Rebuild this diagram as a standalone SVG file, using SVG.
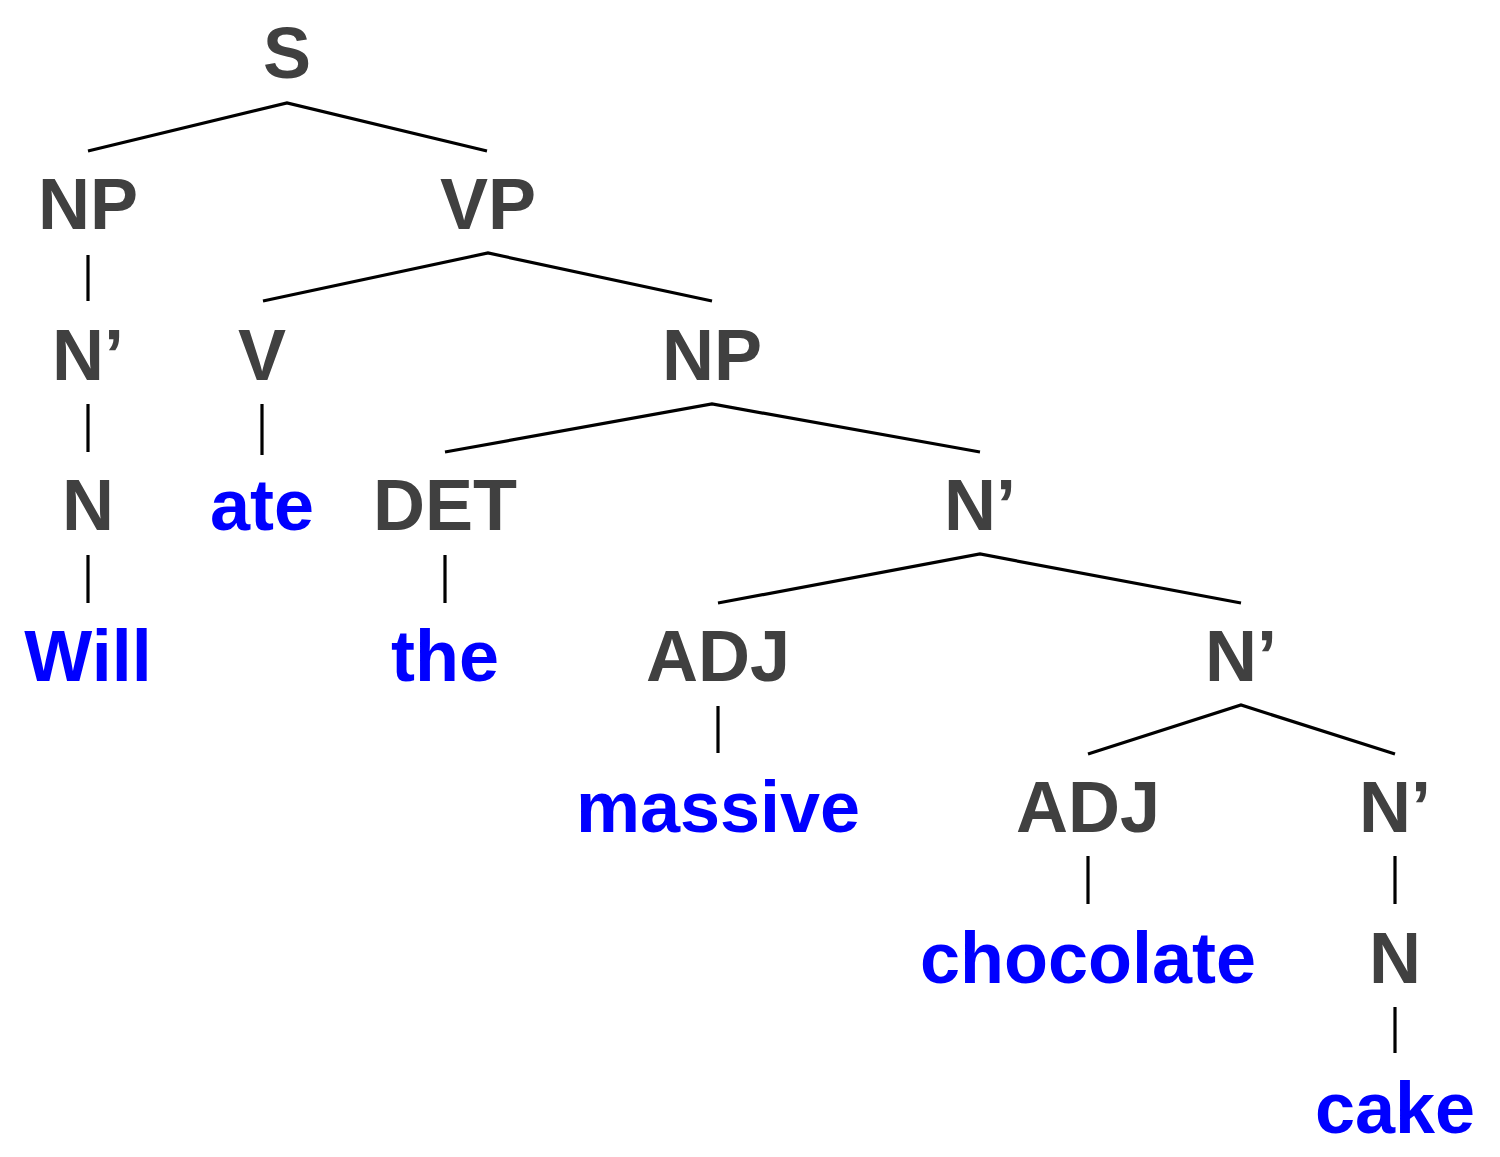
<svg xmlns="http://www.w3.org/2000/svg" width="1500" height="1157" viewBox="0 0 1500 1157">
<style>
text{font-family:"Liberation Sans",Arial,Helvetica,sans-serif;font-weight:bold;font-size:72px;text-anchor:middle}
.c{fill:#404040}
.w{fill:#0000ff}
.e{stroke:#000;stroke-width:3.2;fill:none}
</style>
<rect width="1500" height="1157" fill="#fff"/>
<g id="connectors">
<polyline class="e" points="88,151 287,103 487,151"/>
<polyline class="e" points="263,301 488,253 712,301"/>
<polyline class="e" points="445,452 712,404 980,452"/>
<polyline class="e" points="718,603 980,554 1241,603"/>
<polyline class="e" points="1088,754 1241,705 1395,754"/>
<line class="e" x1="88" y1="255" x2="88" y2="301"/>
<line class="e" x1="88" y1="404" x2="88" y2="452"/>
<line class="e" x1="88" y1="555" x2="88" y2="603"/>
<line class="e" x1="262" y1="404" x2="262" y2="455"/>
<line class="e" x1="445" y1="555" x2="445" y2="603"/>
<line class="e" x1="718" y1="706" x2="718" y2="753"/>
<line class="e" x1="1088" y1="856" x2="1088" y2="904"/>
<line class="e" x1="1395" y1="856" x2="1395" y2="904"/>
<line class="e" x1="1395" y1="1007" x2="1395" y2="1053"/>
</g>
<g id="n-S"><text class="c" x="287" y="78">S</text></g>
<g id="n-NP1"><text class="c" x="88" y="229">NP</text></g>
<g id="n-VP"><text class="c" x="488" y="229">VP</text></g>
<g id="n-Nbar1"><text class="c" x="88" y="380">N’</text></g>
<g id="n-V"><text class="c" x="262" y="380">V</text></g>
<g id="n-NP2"><text class="c" x="712" y="380">NP</text></g>
<g id="n-N1"><text class="c" x="88" y="530">N</text></g>
<g id="n-ate"><text class="w" x="262" y="530">ate</text></g>
<g id="n-DET"><text class="c" x="445" y="530">DET</text></g>
<g id="n-Nbar2"><text class="c" x="980" y="530">N’</text></g>
<g id="n-Will"><text class="w" x="88" y="681">Will</text></g>
<g id="n-the"><text class="w" x="445" y="681">the</text></g>
<g id="n-ADJ1"><text class="c" x="718" y="681">ADJ</text></g>
<g id="n-Nbar3"><text class="c" x="1241" y="681">N’</text></g>
<g id="n-massive"><text class="w" x="718" y="832">massive</text></g>
<g id="n-ADJ2"><text class="c" x="1088" y="832">ADJ</text></g>
<g id="n-Nbar4"><text class="c" x="1395" y="832">N’</text></g>
<g id="n-chocolate"><text class="w" x="1088" y="983">chocolate</text></g>
<g id="n-N2"><text class="c" x="1395" y="983">N</text></g>
<g id="n-cake"><text class="w" x="1395" y="1133">cake</text></g>
</svg>
